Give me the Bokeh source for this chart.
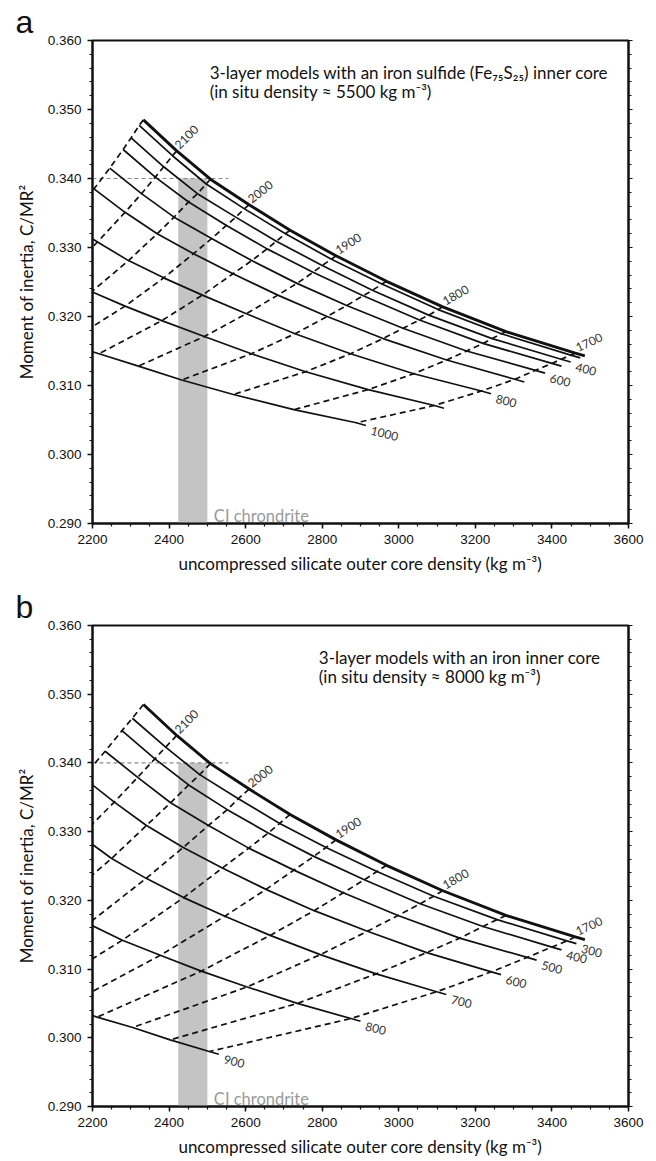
from bokeh.plotting import figure
from bokeh.models import (Range1d, LinearAxis, SingleIntervalTicker, PrintfTickFormatter,
                          CustomJSTickFormatter, Title)
from bokeh.layouts import column
from bokeh.embed import file_html
from bokeh.resources import INLINE
from bokeh.core.properties import value

# ---------------- data ----------------
# dashed lines: silicate outer-core radius (km); nodes below are listed in this order
outer_core_radius = [1700, 1750, 1800, 1850, 1900, 1950, 2000, 2050, 2100, 2150]
labelled_outer = [1700, 1800, 1900, 2000, 2100]
labelled_outer_angle = [25, 30, 33, 38, 45]

# two-layer model (thick top curve, identical in both panels)
two_layer_rho = [3461, 3280, 3115, 2968, 2836, 2716, 2609, 2508, 2420, 2333]
two_layer_moi = [0.3147, 0.3178, 0.3214, 0.3251, 0.3288, 0.3325, 0.3362, 0.3399, 0.3440, 0.3485]

# panel a : Fe75S25 inner core, radius (km)
a_radius = [300, 400, 500, 600, 700, 800, 900, 1000]
a_rho_300 = [3449, 3268, 3103, 2956, 2824, 2704, 2597, 2497, 2409, 2322]
a_moi_300 = [0.3144, 0.3175, 0.3210, 0.3247, 0.3283, 0.3320, 0.3356, 0.3392, 0.3433, 0.3477]
a_rho_400 = [3424, 3244, 3078, 2931, 2800, 2680, 2574, 2474, 2386, 2301]
a_moi_400 = [0.3138, 0.3168, 0.3202, 0.3238, 0.3274, 0.3309, 0.3344, 0.3378, 0.3417, 0.3459]
a_rho_500 = [3400, 3220, 3054, 2907, 2776, 2656, 2550, 2451, 2364, 2280]
a_moi_500 = [0.3132, 0.3161, 0.3195, 0.3230, 0.3264, 0.3298, 0.3332, 0.3366, 0.3402, 0.3442]
a_rho_600 = [3357, 3177, 3011, 2864, 2734, 2616, 2511, 2413, 2328, 2245]
a_moi_600 = [0.3122, 0.3150, 0.3183, 0.3216, 0.3248, 0.3281, 0.3313, 0.3344, 0.3378, 0.3415]
a_rho_700 = [3303, 3125, 2959, 2813, 2684, 2567, 2464, 2369, 2285, 2204]
a_moi_700 = [0.3109, 0.3137, 0.3168, 0.3200, 0.3231, 0.3262, 0.3291, 0.3320, 0.3351, 0.3385]
a_rho_800 = [3216, 3039, 2874, 2729, 2602, 2487, 2386, 2294, 2213, 2136]
a_moi_800 = [0.3092, 0.3117, 0.3146, 0.3175, 0.3204, 0.3231, 0.3256, 0.3281, 0.3308, 0.3335]
a_rho_900 = [3093, 2920, 2757, 2615, 2492, 2381, 2285, 2198, 2121, 2051]
a_moi_900 = [0.3071, 0.3094, 0.3120, 0.3146, 0.3171, 0.3194, 0.3215, 0.3236, 0.3256, 0.3277]
a_rho_1000 = [2889, 2726, 2568, 2433, 2320, 2217, 2130, 2054, 1986, 1926]
a_moi_1000 = [0.3046, 0.3065, 0.3087, 0.3108, 0.3128, 0.3146, 0.3161, 0.3175, 0.3188, 0.3200]
# curve end points (two-layer first)
a_end_rho = [3486, 3474, 3449, 3425, 3382, 3328, 3241, 3118, 2914]
a_end_moi = [0.3143, 0.3140, 0.3134, 0.3128, 0.3118, 0.3105, 0.3088, 0.3067, 0.3042]
a_labelled_radius = [400, 600, 800, 1000]

# panel b : iron inner core, radius (km)
b_radius = [300, 400, 500, 600, 700, 800, 900]
b_rho_300 = [3439, 3257, 3091, 2943, 2810, 2689, 2581, 2480, 2391, 2304]
b_moi_300 = [0.3141, 0.3172, 0.3206, 0.3242, 0.3277, 0.3312, 0.3348, 0.3383, 0.3423, 0.3465]
b_rho_400 = [3400, 3220, 3056, 2910, 2778, 2659, 2552, 2451, 2363, 2277]
b_moi_400 = [0.3132, 0.3162, 0.3195, 0.3230, 0.3264, 0.3298, 0.3332, 0.3368, 0.3406, 0.3447]
b_rho_500 = [3335, 3159, 2998, 2855, 2726, 2608, 2503, 2404, 2318, 2233]
b_moi_500 = [0.3117, 0.3145, 0.3178, 0.3211, 0.3244, 0.3276, 0.3309, 0.3342, 0.3379, 0.3417]
b_rho_600 = [3242, 3073, 2918, 2779, 2653, 2539, 2437, 2341, 2257, 2175]
b_moi_600 = [0.3096, 0.3124, 0.3155, 0.3185, 0.3216, 0.3247, 0.3277, 0.3309, 0.3343, 0.3379]
b_rho_700 = [3099, 2941, 2795, 2664, 2546, 2438, 2340, 2250, 2169, 2091]
b_moi_700 = [0.3067, 0.3093, 0.3121, 0.3149, 0.3177, 0.3204, 0.3232, 0.3261, 0.3294, 0.3326]
b_rho_800 = [2875, 2735, 2604, 2484, 2377, 2278, 2189, 2106, 2031, 1960]
b_moi_800 = [0.3028, 0.3050, 0.3074, 0.3097, 0.3120, 0.3142, 0.3166, 0.3192, 0.3222, 0.3246]
b_rho_900 = [2505, 2403, 2305, 2212, 2128, 2050, 1978, 1912, 1851, 1795]
b_moi_900 = [0.2980, 0.2997, 0.3015, 0.3030, 0.3046, 0.3063, 0.3084, 0.3107, 0.3135, 0.3153]
b_end_rho = [3486, 3464, 3425, 3360, 3267, 3124, 2900, 2530]
b_end_moi = [0.3143, 0.3137, 0.3128, 0.3113, 0.3092, 0.3063, 0.3024, 0.2976]
b_labelled_radius = [300, 400, 500, 600, 700, 800, 900]

# CI chondrite band and the C/MR2 = 0.340 reference line
ci_chondrite_rho = [2424, 2500]
moi_observed = 0.340
observed_line_rho = [2200, 2555]

x_limits = [2200, 3600]
y_limits = [0.290, 0.360]

a_text = ["3-layer models with an iron sulfide (Fe\u2087\u2085S\u2082\u2085) inner core",
          "(in situ density \u2248 5500 kg m\u207b\u00b3)"]
b_text = ["3-layer models with an iron inner core",
          "(in situ density \u2248 8000 kg m\u207b\u00b3)"]

INK = "#111111"
FONT = "Lato"


def make_panel(letter, rho_curves, moi_curves, radii, end_rho, end_moi, labelled_radius,
               text_lines, text_x, height, top, bottom):
    p = figure(width=656, height=height,
               x_range=Range1d(*x_limits), y_range=Range1d(*y_limits),
               output_backend="svg", toolbar_location=None,
               min_border_left=92, min_border_right=28,
               min_border_top=top, min_border_bottom=bottom)
    p.title = Title(text=letter, align="left", offset=-77, standoff=2,
                    text_font="Liberation Sans", text_font_size="32px",
                    text_font_style="normal", text_color=INK)
    p.xgrid.visible = False
    p.ygrid.visible = False
    p.outline_line_color = INK
    p.outline_line_width = 2
    p.background_fill_color = "white"
    p.border_fill_color = "white"

    # CI chondrite band
    p.quad(left=[ci_chondrite_rho[0]], right=[ci_chondrite_rho[1]],
           bottom=[y_limits[0]], top=[moi_observed],
           fill_color="#c4c4c4", line_color=None)
    p.line(observed_line_rho, [moi_observed, moi_observed], line_color="#8a8a8a",
           line_width=1.2, line_dash="4 3")

    # dashed constant outer-core-radius lines
    for k in range(len(outer_core_radius)):
        xs = [c[k] for c in rho_curves]
        ys = [c[k] for c in moi_curves]
        p.line(xs, ys, line_color=INK, line_width=1.7, line_dash="6 4")

    # solid constant inner-core-radius curves
    for i, (rx, my) in enumerate(zip(rho_curves, moi_curves)):
        xs = list(reversed(rx)) + [end_rho[i]]
        ys = list(reversed(my)) + [end_moi[i]]
        p.line(xs, ys, line_color=INK, line_width=2.9 if i == 0 else 1.7)

    # outer radius labels on the two-layer curve
    for lab, ang in zip(labelled_outer, labelled_outer_angle):
        k = outer_core_radius.index(lab)
        p.text(x=[rho_curves[0][k]], y=[moi_curves[0][k]], text=[str(lab)],
               angle=ang, angle_units="deg", text_font=value(FONT),
               text_font_size="12px", text_color="#333333",
               text_align="left", text_baseline="bottom", x_offset=3, y_offset=-1)

    # inner core radius labels
    for r in labelled_radius:
        i = radii.index(r) + 1
        p.text(x=[end_rho[i]], y=[end_moi[i]], text=[str(r)],
               angle=-14, angle_units="deg", text_font=value(FONT),
               text_font_size="12px", text_color="#333333",
               text_align="left", text_baseline="middle", x_offset=5, y_offset=5)

    p.text(x=[2517], y=[0.2911], text=["CI chrondrite"], text_font=value(FONT),
           text_font_size="16.5px", text_color="#9a9a9a", text_baseline="alphabetic")

    p.text(x=[text_x, text_x], y=[0.3554, 0.3526], text=text_lines, text_font=value(FONT),
           text_font_size="17px", text_color="#111111", text_baseline="alphabetic")

    # axes
    p.xaxis.ticker = SingleIntervalTicker(interval=200, num_minor_ticks=4)
    p.yaxis.ticker = SingleIntervalTicker(interval=0.01, num_minor_ticks=5)
    p.yaxis.formatter = PrintfTickFormatter(format="%.3f")
    p.xaxis.axis_label = "uncompressed silicate outer core density (kg m\u207b\u00b3)"
    p.yaxis.axis_label = "Moment of inertia, C/MR\u00b2"
    for ax in (p.xaxis[0], p.yaxis[0]):
        ax.axis_line_width = 2
        ax.axis_line_color = INK
        ax.major_tick_line_color = INK
        ax.minor_tick_line_color = INK
        ax.major_tick_line_width = 1.5
        ax.minor_tick_line_width = 1.2
        ax.major_tick_out = 5
        ax.major_tick_in = 0
        ax.minor_tick_out = 3
        ax.minor_tick_in = 0
        ax.major_label_text_font = "Liberation Sans"
        ax.major_label_text_color = INK
        ax.major_label_text_font_size = "13.5px"
        ax.major_label_standoff = 6
        ax.axis_label_text_font = FONT
        ax.axis_label_text_font_style = "normal"
        ax.axis_label_text_font_size = "17px"
        ax.axis_label_text_color = INK
    p.xaxis.axis_label_standoff = 6
    p.yaxis.axis_label_standoff = 8

    right = LinearAxis(ticker=SingleIntervalTicker(interval=0.01, num_minor_ticks=5),
                       formatter=CustomJSTickFormatter(code="return ''"),
                       axis_line_width=2, axis_line_color=INK,
                       major_tick_out=4, major_tick_in=0, minor_tick_out=3, minor_tick_in=0,
                       major_tick_line_color=INK, minor_tick_line_color=INK,
                       major_label_standoff=0)
    p.add_layout(right, "right")
    return p


a_rho_curves = [two_layer_rho, a_rho_300, a_rho_400, a_rho_500, a_rho_600, a_rho_700,
                a_rho_800, a_rho_900, a_rho_1000]
a_moi_curves = [two_layer_moi, a_moi_300, a_moi_400, a_moi_500, a_moi_600, a_moi_700,
                a_moi_800, a_moi_900, a_moi_1000]
b_rho_curves = [two_layer_rho, b_rho_300, b_rho_400, b_rho_500, b_rho_600, b_rho_700,
                b_rho_800, b_rho_900]
b_moi_curves = [two_layer_moi, b_moi_300, b_moi_400, b_moi_500, b_moi_600, b_moi_700,
                b_moi_800, b_moi_900]

pa = make_panel("a", a_rho_curves, a_moi_curves, a_radius, a_end_rho, a_end_moi,
                a_labelled_radius, a_text, 2506, 580, 40, 57)
pb = make_panel("b", b_rho_curves, b_moi_curves, b_radius, b_end_rho, b_end_moi,
                b_labelled_radius, b_text, 2791, 581, 45, 55)

layout = column(pa, pb, spacing=0)
open("out.html", "w").write(file_html(layout, INLINE))
